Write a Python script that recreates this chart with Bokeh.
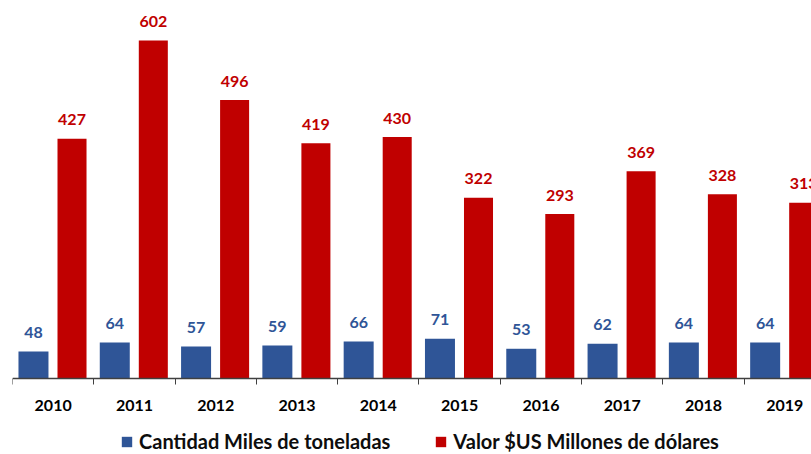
from bokeh.plotting import figure
from bokeh.models import FixedTicker, Legend, LegendItem, ColumnDataSource, Range1d, LinearAxis
from bokeh.core.properties import value
from bokeh.embed import file_html
from bokeh.resources import INLINE

years = ["2010", "2011", "2012", "2013", "2014", "2015", "2016", "2017", "2018", "2019"]
cantidad = [48, 64, 57, 59, 66, 71, 53, 62, 64, 64]
valor = [427, 602, 496, 419, 430, 322, 293, 369, 328, 313]

BLUE = "#2F5597"
RED = "#C00000"
FONT = "Lato"

idx = list(range(len(years)))
src = ColumnDataSource(dict(
    xb=[i + 0.258 for i in idx],
    xr=[i + 0.732 for i in idx],
    cantidad=cantidad,
    valor=valor,
    lb=[str(v) for v in cantidad],
    lr=[str(v) for v in valor],
))

p = figure(width=811, height=454, frame_width=799, frame_height=446,
           x_range=Range1d(0, 9.828), y_range=Range1d(-135.3, 659),
           output_backend="svg", toolbar_location=None,
           x_axis_location=None, y_axis_location=None,
           min_border_left=12, min_border_right=0, min_border_top=8, min_border_bottom=0)
p.xgrid.visible = False
p.ygrid.visible = False
p.outline_line_color = None

rb = p.vbar(x="xb", top="cantidad", width=0.369, source=src, fill_color=BLUE, line_color=None)
rr = p.vbar(x="xr", top="valor", width=0.357, source=src, fill_color=RED, line_color=None)

p.text(x="xb", y="cantidad", text="lb", source=src, text_align="center", text_baseline="alphabetic",
       y_offset=-19, text_font=value(FONT), text_font_style="bold", text_font_size="16px", text_color=BLUE)
p.text(x="xr", y="valor", text="lr", source=src, text_align="center", text_baseline="alphabetic",
       y_offset=-19, text_font=value(FONT), text_font_style="bold", text_font_size="16px", text_color=RED)

ax = LinearAxis(fixed_location=0)
ax.ticker = FixedTicker(ticks=[i + 0.5 for i in idx], minor_ticks=[float(i) for i in range(len(years) + 1)])
ax.major_label_overrides = {i + 0.5: years[i] for i in idx}
ax.major_tick_out = 0
ax.major_tick_in = 0
ax.minor_tick_out = 6
ax.minor_tick_in = 0
ax.minor_tick_line_color = "#404040"
ax.axis_line_color = "#404040"
ax.axis_line_width = 1.5
ax.major_label_standoff = 15
ax.major_label_text_font = FONT
ax.major_label_text_font_style = "bold"
ax.major_label_text_font_size = "16px"
ax.major_label_text_color = "#000000"
p.add_layout(ax, "below")

legend = Legend(items=[LegendItem(label="Cantidad Miles de toneladas", renderers=[rb]),
                       LegendItem(label="Valor $US Millones de dólares", renderers=[rr])],
                orientation="horizontal", location=(108, 1), border_line_color=None,
                background_fill_alpha=0, margin=0, padding=0, spacing=44,
                glyph_width=13, glyph_height=13, label_standoff=6,
                label_text_font=FONT, label_text_font_style="bold", label_text_font_size="20px",
                label_text_color="#0d0d0d")
p.add_layout(legend, "center")

open("out.html", "w").write(file_html(p, INLINE))
